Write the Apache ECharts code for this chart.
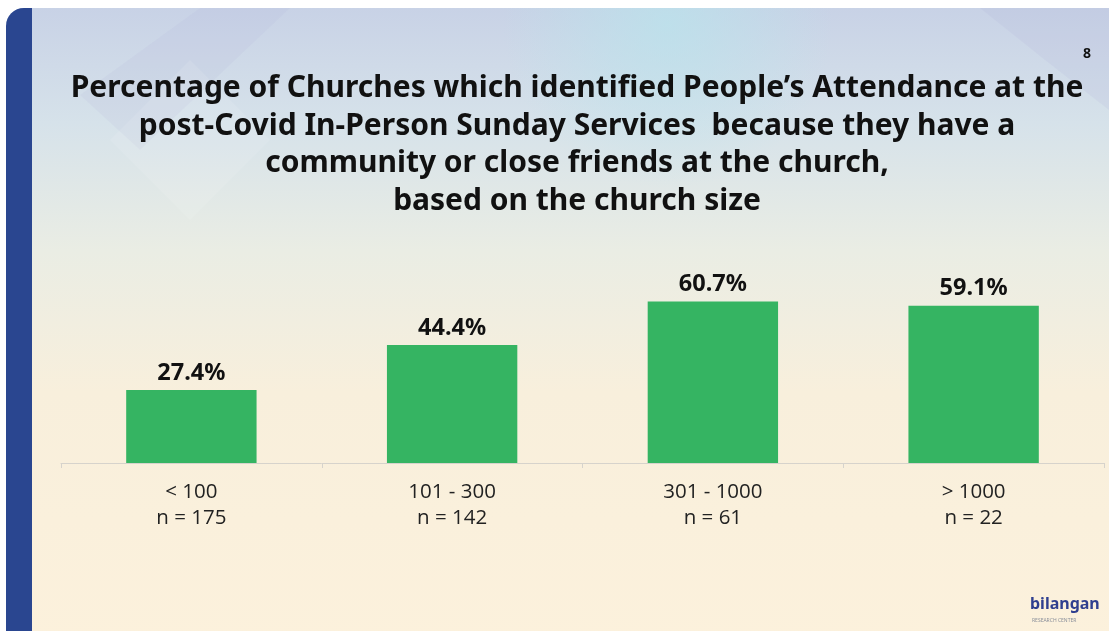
<!DOCTYPE html>
<html>
<head>
<meta charset="utf-8">
<script src="https://cdn.jsdelivr.net/npm/echarts@6/dist/echarts.min.js"></script>
<style>
html,body{margin:0;padding:0;background:#ffffff;}
#chart{width:1109px;height:631px;}
</style>
</head>
<body>
<div id="chart"></div>
<script>
const categories = ['< 100', '101 - 300', '301 - 1000', '> 1000'];
const sampleSizes = [175, 142, 61, 22];
const percentages = [27.4, 44.4, 60.7, 59.1];
const titleLines = [
  'Percentage of Churches which identified People\u2019s Attendance at the',
  'post-Covid In-Person Sunday Services  because they have a',
  'community or close friends at the church,',
  'based on the church size'
];

const chart = echarts.init(document.getElementById('chart'));

const option = {
  animation: false,
  graphic: [
    {
      type: 'rect', z: -10, silent: true,
      shape: { x: 6, y: 8, width: 1103, height: 640, r: [18, 0, 0, 0] },
      style: {
        fill: new echarts.graphic.LinearGradient(0, 0, 0, 1, [
          { offset: 0, color: '#c8d2e6' },
          { offset: 0.18, color: '#d6e2ea' },
          { offset: 0.38, color: '#eaede4' },
          { offset: 0.6, color: '#f8efdc' },
          { offset: 1, color: '#fcf1dc' }
        ])
      }
    },
    {
      type: 'rect', z: -9, silent: true,
      shape: { x: 6, y: 8, width: 1103, height: 300 },
      style: {
        fill: new echarts.graphic.RadialGradient(0.6, 0.05, 0.55, [
          { offset: 0, color: 'rgba(185,228,236,0.7)' },
          { offset: 1, color: 'rgba(185,228,236,0)' }
        ])
      }
    },
    {
      type: 'polygon', z: -8, silent: true,
      shape: { points: [[200, 8], [290, 8], [140, 150], [80, 95]] },
      style: { fill: 'rgba(170,170,210,0.12)' }
    },
    {
      type: 'polygon', z: -8, silent: true,
      shape: { points: [[190, 60], [270, 140], [190, 220], [110, 140]] },
      style: { fill: 'rgba(255,255,255,0.1)' }
    },
    {
      type: 'polygon', z: -8, silent: true,
      shape: { points: [[980, 8], [1109, 8], [1109, 110], [1045, 60]] },
      style: { fill: 'rgba(170,170,215,0.14)' }
    },
    {
      type: 'rect', z: -7, silent: true,
      shape: { x: 6, y: 8, width: 26, height: 640, r: [18, 0, 0, 0] },
      style: { fill: '#2a4690' }
    },
    {
      type: 'text', z: 5, left: 1083, top: 47,
      style: { text: '8', fill: '#111', font: 'bold 14px "Noto Sans", sans-serif' }
    },
    {
      type: 'text', z: 5, left: 1030, top: 596,
      style: {
        text: '{r|b}{b|ilangan}',
        rich: {
          r: { fill: '#2f3f8f', font: 'bold 16px "Noto Sans", sans-serif' },
          b: { fill: '#2f3f8f', font: 'bold 16px "Noto Sans", sans-serif' }
        }
      }
    },
    {
      type: 'text', z: 5, left: 1032, top: 618,
      style: { text: 'RESEARCH CENTER', fill: '#8a8f9a', font: '5px "Noto Sans", sans-serif' }
    }
  ],
  title: {
    text: titleLines.join('\n'),
    left: 572,
    top: 65,
    textAlign: 'center',
    textStyle: {
      fontFamily: '"Noto Sans", sans-serif',
      fontWeight: 'bold',
      fontSize: 30,
      lineHeight: 37.5,
      color: '#111111'
    }
  },
  grid: { left: 61, right: 5, top: 197, bottom: 168, containLabel: false },
  xAxis: {
    type: 'category',
    data: categories,
    axisLine: { show: true, lineStyle: { color: '#d6d3cc', width: 1 } },
    axisTick: { show: true, length: 5, lineStyle: { color: '#d6d3cc' } },
    axisLabel: {
      margin: 16,
      interval: 0,
      fontFamily: '"Open Sans", sans-serif',
      fontSize: 20.5,
      lineHeight: 26,
      color: '#222222',
      formatter: function (v, i) { return v + '\nn = ' + sampleSizes[i]; }
    }
  },
  yAxis: {
    type: 'value', min: 0, max: 100, show: false,
    splitLine: { show: false }
  },
  series: [{
    type: 'bar',
    data: percentages,
    barWidth: '50%',
    itemStyle: { color: '#35b462' },
    label: {
      show: true,
      position: 'top',
      distance: 5,
      fontFamily: '"Noto Sans", sans-serif',
      fontWeight: 'bold',
      fontSize: 23.5,
      color: '#111111',
      formatter: function (p) { return p.value.toFixed(1) + '%'; }
    }
  }]
};

chart.setOption(option);
</script>
</body>
</html>
